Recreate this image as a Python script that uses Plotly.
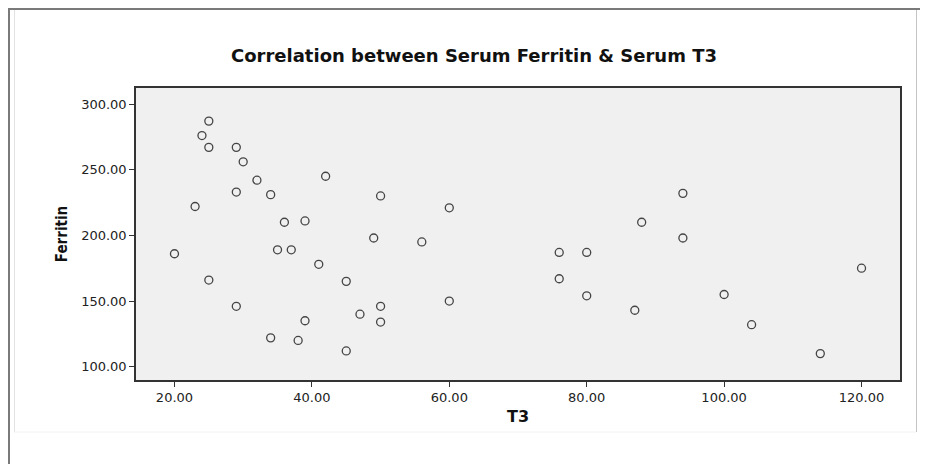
import plotly.graph_objects as go

# Data
t3 = [20, 23, 24, 25, 25, 25, 29, 29, 29, 30, 32, 34, 34, 35, 36, 37, 38, 39, 39, 41, 42,
      45, 45, 47, 49, 50, 50, 50, 56, 60, 60, 76, 76, 80, 80, 87, 88, 94, 94, 100, 104, 114, 120]
ferritin = [186, 222, 276, 287, 267, 166, 267, 233, 146, 256, 242, 231, 122, 189, 210, 189, 120, 211, 135, 178, 245,
            165, 112, 140, 198, 230, 146, 134, 195, 221, 150, 187, 167, 187, 154, 143, 210, 232, 198, 155, 132, 110, 175]
x_ticks = [20, 40, 60, 80, 100, 120]
y_ticks = [100, 150, 200, 250, 300]

OFF = 8  # page body margin offset
W, H = 928 - OFF, 464 - OFF
L, R, T, B = 136 - OFF, 900 - OFF, 88 - OFF, 380 - OFF

fig = go.Figure(go.Scatter(
    x=t3, y=ferritin, mode="markers",
    marker=dict(symbol="circle-open", size=8, color="#444444", line=dict(width=1.3, color="#444444")),
    hoverinfo="x+y",
))

def px(xp):
    return (xp - OFF - L) / (R - L)

def py(yp):
    return (B - (yp - OFF)) / (B - T)

line_dark = dict(color="#7a7a7a", width=2)
line_light = dict(color="#c4c4c4", width=1)
shapes = [
    dict(type="line", xref="paper", yref="paper", x0=px(9), x1=px(9), y0=py(9), y1=py(470), line=line_dark),
    dict(type="line", xref="paper", yref="paper", x0=px(8), x1=px(935), y0=py(9), y1=py(9), line=line_dark),
    dict(type="line", xref="paper", yref="paper", x0=px(14.5), x1=px(14.5), y0=py(10), y1=py(432), line=dict(color="#e2e2e2", width=1)),
    dict(type="line", xref="paper", yref="paper", x0=px(916.5), x1=px(916.5), y0=py(10), y1=py(432), line=line_light),
    dict(type="line", xref="paper", yref="paper", x0=px(14), x1=px(916), y0=py(432), y1=py(432), line=dict(color="#f2f2f2", width=1)),
]

axis_common = dict(
    showgrid=False, zeroline=False, showline=True, mirror=True,
    linecolor="#333333", linewidth=1.5,
    ticks="outside", ticklen=5, tickcolor="#333333", tickwidth=1.3,
    tickformat=".2f",
    tickfont=dict(family="DejaVu Sans, Liberation Sans, Arial, sans-serif", size=13, color="#222222"),
)

fig.update_layout(
    width=W, height=H,
    margin=dict(l=L, r=W - R, t=T, b=H - B),
    paper_bgcolor="white", plot_bgcolor="#f0f0f0",
    showlegend=False,
    title=dict(
        text="Correlation between Serum Ferritin & Serum T3",
        font=dict(family="DejaVu Sans, Liberation Sans, Arial, sans-serif", size=18, color="#111111", weight="bold"),
        x=(474 - OFF) / W, xanchor="center", xref="container",
        y=1 - (56 - OFF) / H, yanchor="middle", yref="container",
    ),
    xaxis=dict(
        range=[14.4, 125.6], tickvals=x_ticks, **axis_common,
        title=dict(text="T3", standoff=6,
                   font=dict(family="DejaVu Sans, Liberation Sans, Arial, sans-serif", size=16, color="#111111", weight="bold")),
    ),
    yaxis=dict(
        range=[89.9, 312.2], tickvals=y_ticks, **axis_common,
        title=dict(text="Ferritin", standoff=10,
                   font=dict(family="DejaVu Sans Condensed, Liberation Sans Narrow, Arial Narrow, sans-serif",
                             size=15, color="#111111", weight="bold")),
    ),
    shapes=shapes,
)

fig.write_html("out.html")
